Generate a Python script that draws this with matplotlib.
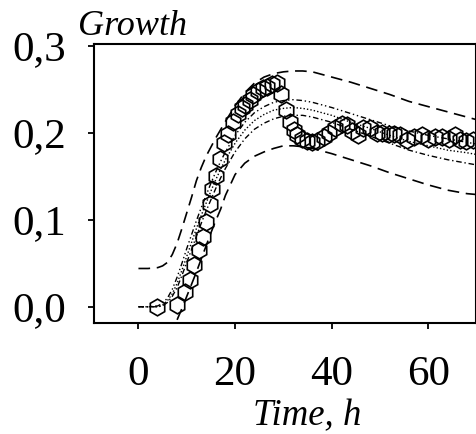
import matplotlib
matplotlib.use("Agg")
import matplotlib.pyplot as plt

# observed data (time, growth)
t_obs = [3.8, 8.0, 9.6, 10.6, 11.6, 12.5, 13.3, 14.0, 14.8, 15.3, 16.0, 16.9, 17.8, 18.6, 19.6,
         20.7, 21.4, 22.1, 23.0, 23.8, 24.8, 25.7, 26.6, 27.6, 28.6, 29.5, 30.5, 31.4, 32.2, 32.9,
         33.8, 34.8, 35.9, 37.0, 38.3, 39.5, 40.7, 42.1, 43.2, 44.3, 45.5, 46.5, 47.9, 49.3, 50.5,
         51.8, 52.9, 54.2, 55.5, 57.0, 58.6, 60.0, 61.3, 62.8, 64.2, 65.5, 66.6, 67.8, 69.3]
g_obs = [0.000, 0.002, 0.017, 0.031, 0.048, 0.065, 0.080, 0.097, 0.118, 0.135, 0.150, 0.170, 0.188,
         0.199, 0.212, 0.222, 0.228, 0.232, 0.238, 0.243, 0.248, 0.251, 0.253, 0.256, 0.257, 0.245,
         0.226, 0.212, 0.203, 0.197, 0.193, 0.190, 0.189, 0.191, 0.195, 0.200, 0.205, 0.210, 0.209,
         0.202, 0.197, 0.205, 0.205, 0.200, 0.200, 0.198, 0.199, 0.197, 0.192, 0.195, 0.197, 0.193,
         0.195, 0.195, 0.193, 0.197, 0.192, 0.190, 0.192]

# upper confidence bound
t_up = [0, 2, 4, 5, 6, 7, 8, 9, 10, 11, 12, 13, 14, 16, 18, 20, 22, 24, 26, 28, 30, 32, 34, 36, 38,
        40, 44, 48, 52, 56, 60, 64, 68, 70]
g_up = [0.044, 0.044, 0.045, 0.047, 0.051, 0.060, 0.073, 0.090, 0.108, 0.126, 0.145, 0.160, 0.173,
        0.194, 0.213, 0.231, 0.246, 0.257, 0.264, 0.268, 0.270, 0.271, 0.271, 0.270, 0.267, 0.264,
        0.258, 0.251, 0.244, 0.236, 0.230, 0.224, 0.218, 0.215]

# lower confidence bound
t_lo = [8.0, 9, 10, 11, 12, 13, 14, 15, 16, 17, 18, 20, 22, 24, 26, 28, 30, 32, 34, 36, 38, 40, 44,
        48, 52, 56, 60, 64, 68, 70]
g_lo = [-0.015, -0.002, 0.012, 0.026, 0.040, 0.055, 0.070, 0.085, 0.099, 0.112, 0.128, 0.152, 0.165,
        0.173, 0.178, 0.182, 0.185, 0.185, 0.184, 0.182, 0.179, 0.176, 0.169, 0.162, 0.154, 0.147,
        0.140, 0.134, 0.130, 0.129]

# model curves
t_mod = [0, 2, 4, 5, 6, 7, 8, 9, 10, 11, 12, 13, 14, 15, 16, 17, 18, 20, 22, 24, 26, 28, 30, 32, 34,
         36, 38, 40, 44, 48, 52, 56, 60, 64, 68, 70]
g_m1 = [0, 0, 0.001, 0.004, 0.010, 0.020, 0.034, 0.050, 0.067, 0.083, 0.099, 0.114, 0.128, 0.142,
        0.155, 0.167, 0.178, 0.197, 0.212, 0.223, 0.230, 0.235, 0.237, 0.238, 0.237, 0.235, 0.232,
        0.229, 0.222, 0.215, 0.208, 0.202, 0.197, 0.193, 0.189, 0.187]
g_m2 = [0, 0, 0.000, 0.002, 0.007, 0.015, 0.027, 0.042, 0.058, 0.074, 0.090, 0.105, 0.119, 0.133,
        0.146, 0.158, 0.169, 0.188, 0.203, 0.214, 0.221, 0.226, 0.228, 0.229, 0.228, 0.226, 0.223,
        0.220, 0.212, 0.205, 0.197, 0.190, 0.185, 0.180, 0.177, 0.175]
g_m3 = [0, 0, 0.000, 0.001, 0.005, 0.012, 0.022, 0.036, 0.051, 0.066, 0.081, 0.096, 0.110, 0.123,
        0.136, 0.148, 0.159, 0.178, 0.193, 0.204, 0.211, 0.216, 0.219, 0.220, 0.220, 0.218, 0.215,
        0.212, 0.204, 0.196, 0.188, 0.180, 0.174, 0.169, 0.165, 0.163]

x_ticks = [0, 20, 40, 60]
y_ticks = [0.0, 0.1, 0.2, 0.3]
y_tick_labels = ["0,0", "0,1", "0,2", "0,3"]

W, H = 477, 434
fig = plt.figure(figsize=(W / 100, H / 100), dpi=100)
ax = fig.add_axes([94 / W, 1 - 323.3 / H, (475.7 - 94) / W, (323.3 - 44) / H])

ax.plot(t_up, g_up, color="black", lw=1.2, linestyle=(0, (7, 4)))
ax.plot(t_lo, g_lo, color="black", lw=1.2, linestyle=(0, (7, 4)))
ax.plot(t_mod, g_m1, color="black", lw=1.0, linestyle=(0, (4, 2, 1, 2, 1, 2)))
ax.plot(t_mod, g_m2, color="black", lw=1.0, linestyle=(0, (1, 1.5)))
ax.plot(t_mod, g_m3, color="black", lw=1.0, linestyle=(0, (4, 2, 1, 2)))
ax.plot(t_obs, g_obs, linestyle="none", marker="h", markersize=12,
        markerfacecolor="none", markeredgecolor="black", markeredgewidth=1.2)

ax.set_xlim(-9.2, 69.8)
ax.set_ylim(-0.019, 0.302)
ax.set_xticks(x_ticks)
ax.set_xticklabels([str(v) for v in x_ticks])
ax.set_yticks(y_ticks)
ax.set_yticklabels(y_tick_labels)

for s in ax.spines.values():
    s.set_linewidth(1.5)
ax.tick_params(direction="out", length=4, width=1.3, colors="black")
ax.tick_params(axis="x", pad=19)
ax.tick_params(axis="y", pad=16)
for lab in ax.get_xticklabels() + ax.get_yticklabels():
    lab.set_fontfamily("Liberation Serif")
    lab.set_fontsize(31)

fig.text(78 / W, 1 - 35 / H, "Growth", fontfamily="Liberation Serif", style="italic",
         fontsize=26, ha="left", va="baseline")
fig.text(253 / W, 1 - 425 / H, "Time, h", fontfamily="Liberation Serif", style="italic",
         fontsize=26.5, ha="left", va="baseline")

fig.savefig("out.png", dpi=100)
